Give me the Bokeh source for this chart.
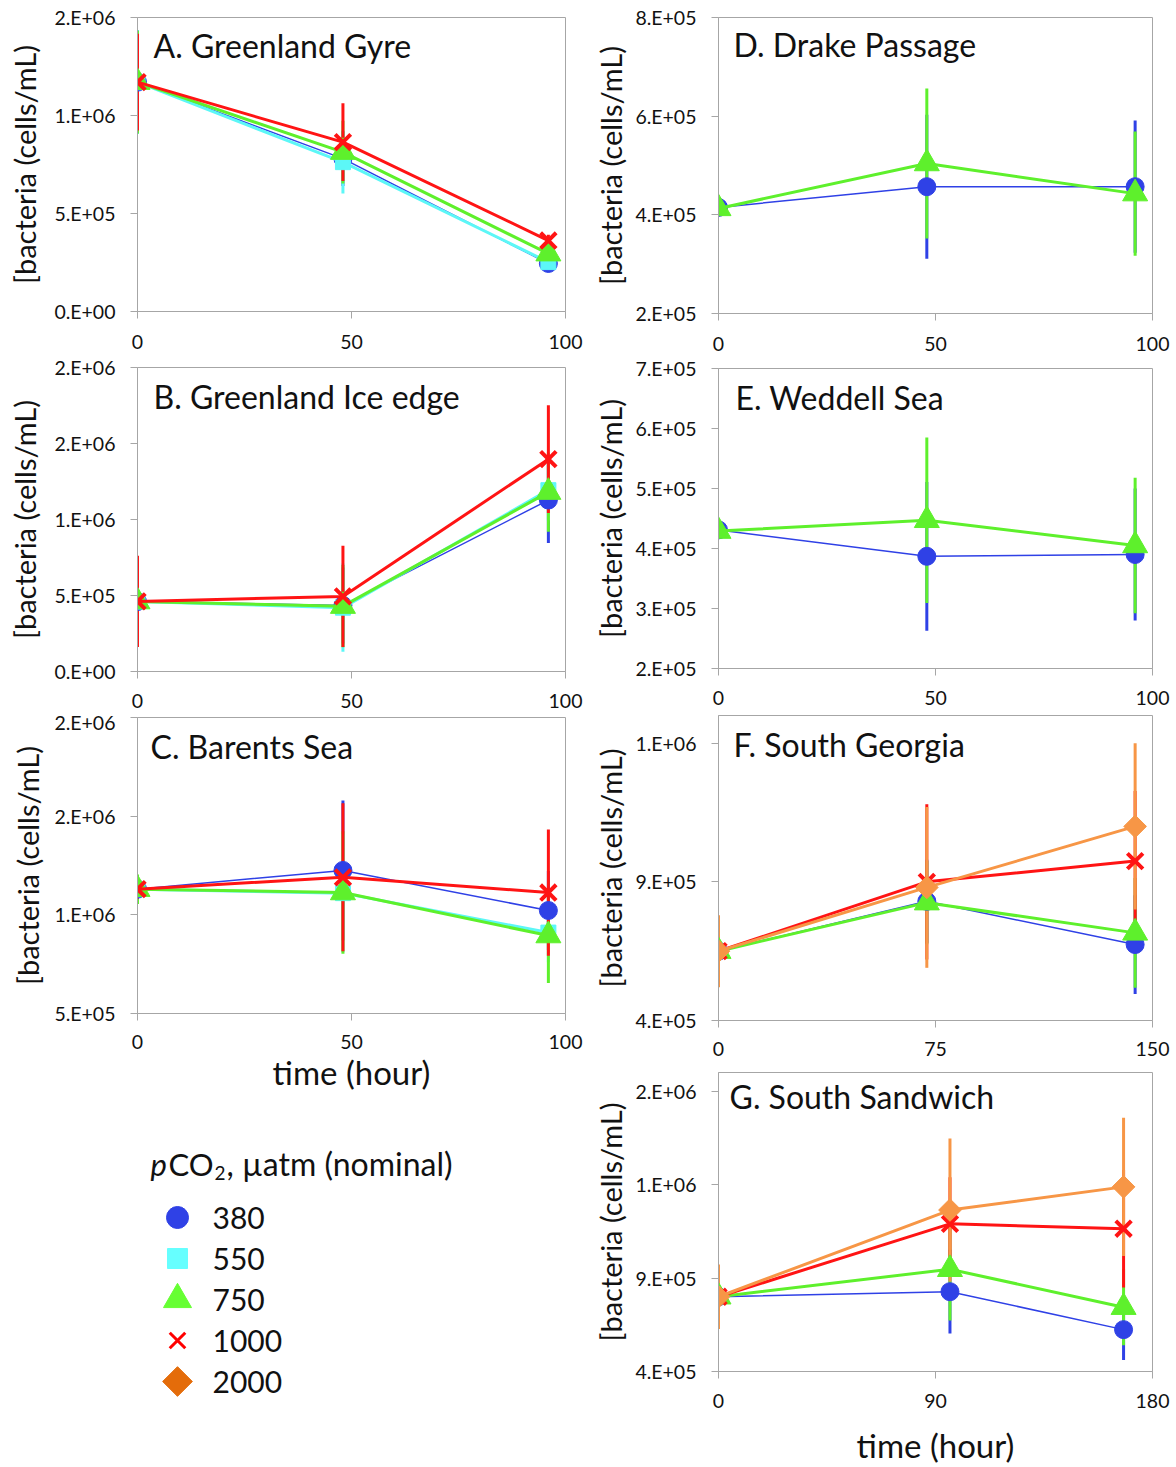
import math
from bokeh.plotting import figure
from bokeh.layouts import column, row
from bokeh.models import Range1d, FixedTicker, Label, ColumnDataSource
from bokeh.embed import file_html
from bokeh.resources import INLINE

FONT = "Lato"

# ---------------- data (cells/mL) ----------------
LEVELS = ["380", "550", "750", "1000", "2000"]

# A. Greenland Gyre
A_TIME = [0, 48, 96]
A_380 = [1.17e6, 0.78e6, 0.245e6]
A_380_ERR = [0.265e6, 0.14e6, 0.03e6]
A_550 = [1.17e6, 0.762e6, 0.252e6]
A_550_ERR = [0.265e6, 0.16e6, 0.03e6]
A_750 = [1.17e6, 0.813e6, 0.295e6]
A_750_ERR = [0.262e6, 0.16e6, 0.03e6]
A_1000 = [1.17e6, 0.864e6, 0.362e6]
A_1000_ERR = [0.247e6, 0.198e6, 0.03e6]

# B. Greenland Ice edge
B_TIME = [0, 48, 96]
B_380 = [0.46e6, 0.435e6, 1.128e6]
B_380_ERR = [0.25e6, 0.25e6, 0.282e6]
B_550 = [0.46e6, 0.42e6, 1.193e6]
B_550_ERR = [0.26e6, 0.29e6, 0.2e6]
B_750 = [0.46e6, 0.43e6, 1.18e6]
B_750_ERR = [0.26e6, 0.27e6, 0.26e6]
B_1000 = [0.461e6, 0.494e6, 1.397e6]
B_1000_ERR = [0.30e6, 0.333e6, 0.354e6]

# C. Barents Sea
C_TIME = [0, 48, 96]
C_380 = [1.13e6, 1.225e6, 1.022e6]
C_380_ERR = [0.05e6, 0.355e6, 0.2e6]
C_550 = [1.13e6, 1.11e6, 0.91e6]
C_550_ERR = [0.05e6, 0.3e6, 0.15e6]
C_750 = [1.13e6, 1.113e6, 0.895e6]
C_750_ERR = [0.075e6, 0.31e6, 0.24e6]
C_1000 = [1.13e6, 1.19e6, 1.113e6]
C_1000_ERR = [0.05e6, 0.375e6, 0.32e6]

# D. Drake Passage
D_TIME = [0, 48, 96]
D_380 = [4.15e5, 4.57e5, 4.57e5]
D_380_ERR = [0.05e5, 1.46e5, 1.34e5]
D_750 = [4.13e5, 5.04e5, 4.43e5]
D_750_ERR = [0.1e5, 1.52e5, 1.26e5]

# E. Weddell Sea
E_TIME = [0, 48, 96]
E_380 = [4.31e5, 3.87e5, 3.90e5]
E_380_ERR = [0.05e5, 1.24e5, 1.1e5]
E_750 = [4.29e5, 4.47e5, 4.05e5]
E_750_ERR = [0.05e5, 1.38e5, 1.13e5]

# F. South Georgia
F_TIME = [0, 72, 144]
F_380 = [6.5e5, 8.3e5, 6.74e5]
F_380_ERR = [0.5e5, 1.5e5, 1.78e5]
F_750 = [6.5e5, 8.25e5, 7.16e5]
F_750_ERR = [0.5e5, 1.5e5, 1.98e5]
F_1000 = [6.5e5, 9.0e5, 9.75e5]
F_1000_ERR = [0.5e5, 2.8e5, 2.53e5]
F_2000 = [6.5e5, 8.8e5, 11.0e5]
F_2000_ERR = [1.3e5, 2.9e5, 3.0e5]

# G. South Sandwich
G_TIME = [0, 96, 168]
G_380 = [8.0e5, 8.27e5, 6.24e5]
G_380_ERR = [0.3e5, 2.24e5, 1.62e5]
G_750 = [8.0e5, 9.47e5, 7.44e5]
G_750_ERR = [0.3e5, 2.74e5, 2.03e5]
G_1000 = [8.0e5, 11.9e5, 11.64e5]
G_1000_ERR = [0.3e5, 2.5e5, 3.14e5]
G_2000 = [8.0e5, 12.64e5, 13.88e5]
G_2000_ERR = [1.73e5, 3.83e5, 3.7e5]

# axis ticks and labels
X_TICKS_100 = [0, 50, 100]
F_XTICKS = [0, 75, 150]
G_XTICKS = [0, 90, 180]

A_YTICKS = [0, 5e5, 1e6, 1.5e6]
A_YLABELS = ["0.E+00", "5.E+05", "1.E+06", "2.E+06"]
B_YTICKS = [0, 5e5, 1e6, 1.5e6, 2e6]
B_YLABELS = ["0.E+00", "5.E+05", "1.E+06", "2.E+06", "2.E+06"]
C_YTICKS = [5e5, 1e6, 1.5e6, 2e6]
C_YLABELS = ["5.E+05", "1.E+06", "2.E+06", "2.E+06"]
D_YTICKS = [2e5, 4e5, 6e5, 8e5]
D_YLABELS = ["2.E+05", "4.E+05", "6.E+05", "8.E+05"]
E_YTICKS = [2e5, 3e5, 4e5, 5e5, 6e5, 7e5]
E_YLABELS = ["2.E+05", "3.E+05", "4.E+05", "5.E+05", "6.E+05", "7.E+05"]
F_YTICKS = [4e5, 9e5, 1.4e6]
F_YLABELS = ["4.E+05", "9.E+05", "1.E+06"]
G_YTICKS = [4e5, 9e5, 1.4e6, 1.9e6]
G_YLABELS = ["4.E+05", "9.E+05", "1.E+06", "2.E+06"]

Y_TITLE = "[bacteria (cells/mL)"
X_TITLE = "time (hour)"

# ---------------- styles ----------------
STYLE = {
    "380": dict(color="#2F41E6", lw=1.5, marker="circle", size=18, angle=0.0, mlw=1),
    "550": dict(color="#5CF7F7", lw=3, marker="square", size=15, angle=0.0, mlw=1),
    "750": dict(color="#5EF02C", lw=3, marker="triangle", size=25, angle=0.0, mlw=1),
    "1000": dict(color="#FF1414", lw=3, marker="x", size=22, angle=0.0, mlw=4),
    "2000": dict(color="#F79646", lw=3, marker="square", size=16, angle=math.pi / 4, mlw=1),
}
AXIS_GRAY = "#A6A6A6"
TEXT = "#111111"

# column geometry (frames of a column share left/right borders)
COL_W = 588
L_BL, L_BR = 137, 23
R_BL, R_BR = 130, 24


def make_panel(title, times, series, xr, xticks, yr, yticks, ylabels,
               bl, br, h, bt, bb, title_dx, title_dy, x_standoff, ylab_standoff,
               xlabel=None, xlabel_standoff=0):
    p = figure(width=COL_W, height=h, x_range=Range1d(*xr), y_range=Range1d(*yr),
               min_border_left=bl, min_border_right=br,
               min_border_top=bt, min_border_bottom=bb,
               output_backend="svg", toolbar_location=None,
               background_fill_color="white", border_fill_color="white")
    p.xgrid.visible = False
    p.ygrid.visible = False
    p.outline_line_color = AXIS_GRAY
    p.outline_line_width = 1
    for ax in (p.xaxis[0], p.yaxis[0]):
        ax.axis_line_color = AXIS_GRAY
        ax.major_tick_line_color = AXIS_GRAY
        ax.major_tick_out = 7
        ax.major_tick_in = 0
        ax.minor_tick_line_color = None
        ax.major_label_text_font = FONT
        ax.major_label_text_font_size = "19.5px"
        ax.major_label_text_color = TEXT
        ax.axis_label_text_font = FONT
        ax.axis_label_text_font_style = "normal"
        ax.axis_label_text_color = TEXT
    p.xaxis.ticker = FixedTicker(ticks=xticks)
    p.xaxis.major_label_standoff = x_standoff
    p.yaxis.ticker = FixedTicker(ticks=yticks)
    p.yaxis.major_label_overrides = {float(t): l for t, l in zip(yticks, ylabels)}
    p.yaxis.major_label_standoff = 15
    p.yaxis.axis_label = Y_TITLE
    p.yaxis.axis_label_text_font_size = "29px"
    p.yaxis.axis_label_standoff = ylab_standoff
    if xlabel:
        p.xaxis.axis_label = xlabel
        p.xaxis.axis_label_text_font_size = "33px"
        p.xaxis.axis_label_standoff = xlabel_standoff

    # error bars first (all series), then lines and markers
    for lev, (vals, errs) in series.items():
        st = STYLE[lev]
        src = ColumnDataSource(dict(t=times,
                                    lo=[v - e for v, e in zip(vals, errs)],
                                    hi=[v + e for v, e in zip(vals, errs)]))
        p.segment(x0="t", y0="lo", x1="t", y1="hi", source=src,
                  line_color=st["color"], line_width=3)
    for lev, (vals, errs) in series.items():
        st = STYLE[lev]
        p.line(times, vals, line_color=st["color"], line_width=st["lw"])
        p.scatter(times, vals, marker=st["marker"], size=st["size"], angle=st["angle"],
                  fill_color=st["color"], line_color=st["color"], line_width=st["mlw"])

    fh = h - bt - bb
    p.add_layout(Label(x=title_dx, y=fh - title_dy, x_units="screen", y_units="screen",
                       text=title, text_font=FONT, text_font_size="32px",
                       text_color=TEXT, text_baseline="middle", text_align="left"))
    return p


pA = make_panel("A. Greenland Gyre", A_TIME,
                {"380": (A_380, A_380_ERR), "550": (A_550, A_550_ERR),
                 "750": (A_750, A_750_ERR), "1000": (A_1000, A_1000_ERR)},
                (0, 100), X_TICKS_100, (0, 1.5e6), A_YTICKS, A_YLABELS,
                L_BL, L_BR, 355, 17, 44, 16, 28, 16, 9)
pB = make_panel("B. Greenland Ice edge", B_TIME,
                {"380": (B_380, B_380_ERR), "550": (B_550, B_550_ERR),
                 "750": (B_750, B_750_ERR), "1000": (B_1000, B_1000_ERR)},
                (0, 100), X_TICKS_100, (0, 2e6), B_YTICKS, B_YLABELS,
                L_BL, L_BR, 355, 12, 38, 16, 30, 15, 9)
pC = make_panel("C. Barents Sea", C_TIME,
                {"380": (C_380, C_380_ERR), "550": (C_550, C_550_ERR),
                 "750": (C_750, C_750_ERR), "1000": (C_1000, C_1000_ERR)},
                (0, 100), X_TICKS_100, (5e5, 2e6), C_YTICKS, C_YLABELS,
                L_BL, L_BR, 385, 7, 82, 13, 29, 14, 6, X_TITLE, 0)
pD = make_panel("D. Drake Passage", D_TIME,
                {"380": (D_380, D_380_ERR), "750": (D_750, D_750_ERR)},
                (0, 100), X_TICKS_100, (2e5, 8e5), D_YTICKS, D_YLABELS,
                R_BL, R_BR, 355, 17, 42, 15, 27, 16, 4)
pE = make_panel("E. Weddell Sea", E_TIME,
                {"380": (E_380, E_380_ERR), "750": (E_750, E_750_ERR)},
                (0, 100), X_TICKS_100, (2e5, 7e5), E_YTICKS, E_YLABELS,
                R_BL, R_BR, 353, 13, 40, 17, 29, 15, 4)
pF = make_panel("F. South Georgia", F_TIME,
                {"380": (F_380, F_380_ERR), "750": (F_750, F_750_ERR),
                 "1000": (F_1000, F_1000_ERR), "2000": (F_2000, F_2000_ERR)},
                (0, 150), F_XTICKS, (4e5, 1.5e6), F_YTICKS, F_YLABELS,
                R_BL, R_BR, 354, 7, 42, 15, 29, 14, 4)
pG = make_panel("G. South Sandwich", G_TIME,
                {"380": (G_380, G_380_ERR), "750": (G_750, G_750_ERR),
                 "1000": (G_1000, G_1000_ERR), "2000": (G_2000, G_2000_ERR)},
                (0, 180), G_XTICKS, (4e5, 2e6), G_YTICKS, G_YLABELS,
                R_BL, R_BR, 405, 10, 92, 11, 28, 15, 4, X_TITLE, 14)

# ---------------- legend panel (page-pixel coordinates) ----------------
LEG_TOP, LEG_H = 1095, 372
pL = figure(width=COL_W, height=LEG_H,
            x_range=Range1d(L_BL, COL_W - L_BR), y_range=Range1d(LEG_TOP + LEG_H, LEG_TOP),
            min_border_left=L_BL, min_border_right=L_BR, min_border_top=0, min_border_bottom=0,
            output_backend="svg", toolbar_location=None,
            background_fill_color="white", border_fill_color="white")
pL.axis.visible = False
pL.grid.visible = False
pL.outline_line_color = None

LEG_STYLE = {
    "380": dict(color="#2F41E6", marker="circle", size=22, angle=0.0, lw=1),
    "550": dict(color="#66FFFF", marker="square", size=20, angle=0.0, lw=1),
    "750": dict(color="#66FF33", marker="triangle", size=28, angle=0.0, lw=1),
    "1000": dict(color="#FF0000", marker="x", size=22, angle=0.0, lw=3),
    "2000": dict(color="#E46C0A", marker="square", size=21, angle=math.pi / 4, lw=1),
}
LEG_MX, LEG_TX, LEG_Y0, LEG_DY = 177, 212, 1217, 41
for i, lev in enumerate(LEVELS):
    st = LEG_STYLE[lev]
    yy = LEG_Y0 + i * LEG_DY
    pL.scatter([LEG_MX], [yy], marker=st["marker"], size=st["size"], angle=st["angle"],
               fill_color=st["color"], line_color=st["color"], line_width=st["lw"])
    pL.add_layout(Label(x=LEG_TX, y=yy, text=lev, text_font=FONT, text_font_size="30px",
                        text_color=TEXT, text_baseline="middle", text_align="left"))

TY = 1163
pL.add_layout(Label(x=150, y=TY, text="p", text_font=FONT, text_font_size="31px",
                    text_font_style="italic", text_color=TEXT, text_baseline="middle"))
pL.add_layout(Label(x=168, y=TY, text="CO", text_font=FONT, text_font_size="31px",
                    text_color=TEXT, text_baseline="middle"))
pL.add_layout(Label(x=214, y=TY + 9, text="2", text_font=FONT, text_font_size="19px",
                    text_color=TEXT, text_baseline="middle"))
pL.add_layout(Label(x=226, y=TY, text=", µatm (nominal)", text_font=FONT, text_font_size="32px",
                    text_color=TEXT, text_baseline="middle"))

left = column(pA, pB, pC, pL)
right = column(pD, pE, pF, pG)
layout = row(left, right)

open("out.html", "w").write(file_html(layout, INLINE))
